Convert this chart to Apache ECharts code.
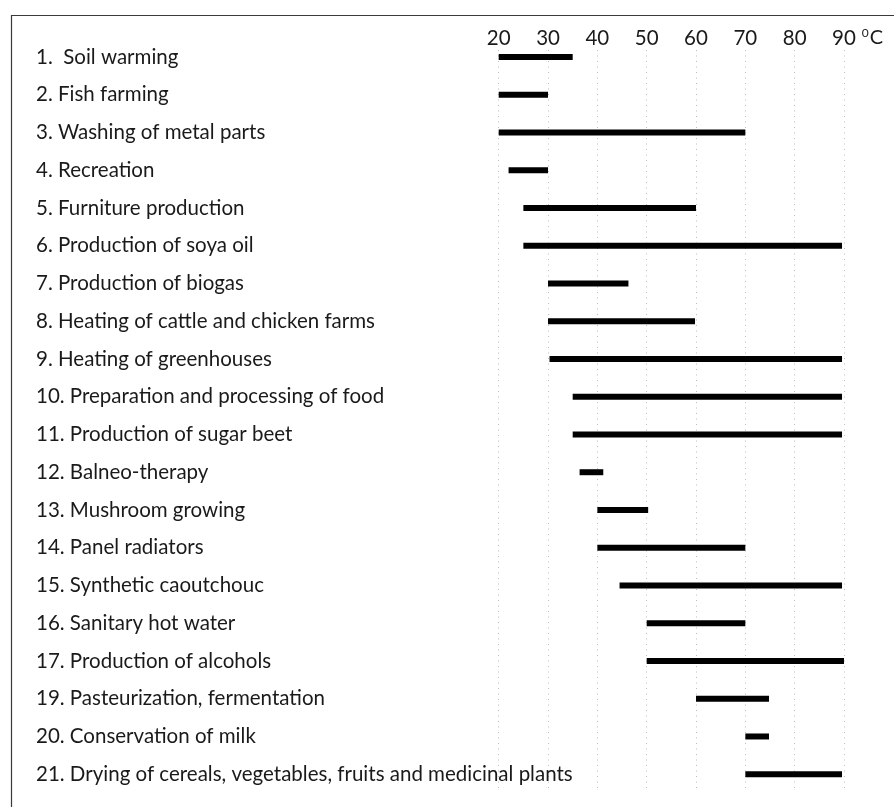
<!DOCTYPE html>
<html>
<head>
<meta charset="utf-8">
<script src="https://cdn.jsdelivr.net/npm/echarts@6/dist/echarts.min.js"></script>
<style>
html,body{margin:0;padding:0;background:#fff;}
#chart{width:894px;height:807px;}
</style>
</head>
<body>
<div id="chart"></div>
<script>
const categories = [
  "1.  Soil warming",
  "2. Fish farming",
  "3. Washing of metal parts",
  "4. Recreation",
  "5. Furniture production",
  "6. Production of soya oil",
  "7. Production of biogas",
  "8. Heating of cattle and chicken farms",
  "9. Heating of greenhouses",
  "10. Preparation and processing of food",
  "11. Production of sugar beet",
  "12. Balneo-therapy",
  "13. Mushroom growing",
  "14. Panel radiators",
  "15. Synthetic caoutchouc",
  "16. Sanitary hot water",
  "17. Production of alcohols",
  "19. Pasteurization, fermentation",
  "20. Conservation of milk",
  "21. Drying of cereals, vegetables, fruits and medicinal plants"
];
const rangeStart = [20, 20, 20, 22, 25, 25, 30, 30, 30.3, 35, 35, 36.4, 40, 40, 44.5, 50, 50, 60, 70, 70];
const rangeEnd   = [35, 30, 70, 30, 60, 89.6, 46.3, 59.8, 89.6, 89.6, 89.6, 41.2, 50.3, 70, 89.6, 70, 90, 74.8, 74.8, 89.6];
const tickMin = 20, tickMax = 90, tickStep = 10;
const unitLabel = "C";
const unitSup = "0";

const chart = echarts.init(document.getElementById('chart'));
const data = categories.map((c, i) => [i, rangeStart[i], rangeEnd[i]]);
const FONT = 'Lato';
const gLeft = 498.7, gRight = 50;

chart.setOption({
  animation: false,
  backgroundColor: '#fff',
  graphic: [{
    type: 'rect', left: 9, top: 13, shape: {x: 0, y: 0, width: 1000, height: 1000},
    style: {fill: 'none', stroke: '#3a3a3a', lineWidth: 1.2}, silent: true
  }],
  grid: [
    {left: gLeft, right: gRight, top: 50, bottom: 16},
    {left: gLeft, right: gRight, top: 38.1, bottom: 13.9}
  ],
  xAxis: [
    {
      gridIndex: 0, type: 'value', position: 'top', min: tickMin, max: tickMax, interval: tickStep,
      axisLine: {show: false, onZero: false}, axisTick: {show: false},
      axisLabel: {fontFamily: FONT, fontSize: 20.5, color: '#1a1a1a', margin: 1},
      splitLine: {show: true, lineStyle: {color: '#bdbdbd', width: 1, type: [1, 4.5]}},
      name: '{s|' + unitSup + '}' + unitLabel,
      nameLocation: 'end', nameGap: 17,
      nameTextStyle: {
        fontFamily: FONT, fontSize: 20, color: '#1a1a1a', verticalAlign: 'bottom', padding: [0, 0, 1, 0],
        rich: {s: {fontFamily: FONT, fontSize: 12, color: '#1a1a1a', verticalAlign: 'top', padding: [0, 1, 10, 0]}}
      }
    },
    {gridIndex: 1, type: 'value', min: tickMin, max: tickMax, show: false}
  ],
  yAxis: [
    {gridIndex: 0, type: 'value', show: false},
    {
      gridIndex: 1, type: 'category', data: categories, inverse: true,
      axisLine: {show: false}, axisTick: {show: false}, splitLine: {show: false},
      axisLabel: {fontFamily: FONT, fontSize: 20.5, color: '#1a1a1a', align: 'left', margin: gLeft - 36}
    }
  ],
  series: [{
    type: 'custom', xAxisIndex: 1, yAxisIndex: 1,
    encode: {x: [1, 2], y: 0},
    data: data,
    renderItem: function (params, api) {
      const yi = api.value(0);
      const s = api.coord([api.value(1), yi]);
      const e = api.coord([api.value(2), yi]);
      const h = 6;
      return {type: 'rect', shape: {x: s[0], y: s[1] - h / 2, width: e[0] - s[0], height: h}, style: {fill: '#000'}};
    }
  }]
});
</script>
</body>
</html>
